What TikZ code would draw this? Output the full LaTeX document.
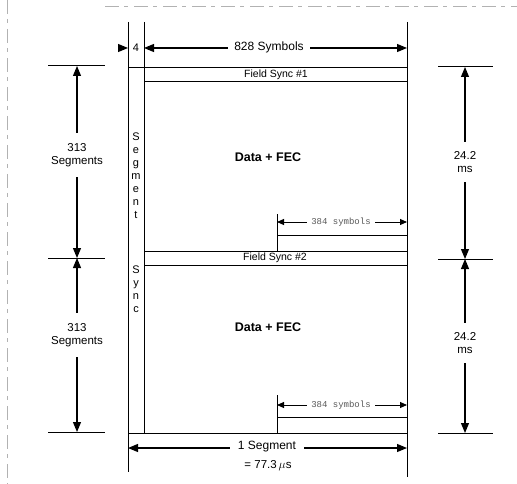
\documentclass[tikz,border=0pt]{standalone}
\usepackage{fontspec}
\setmainfont{Liberation Sans}
\newfontfamily\monof{Liberation Mono}
\usetikzlibrary{arrows.meta}
\tikzset{
  frame/.style={line width=1pt},
  dim/.style={line width=1.1pt,{Triangle[length=10pt,width=8pt]}-{Triangle[length=10pt,width=8pt]}},
  onehead/.style={line width=1.1pt,-{Triangle[length=10pt,width=8pt]}},
  smalldim/.style={line width=0.9pt,{Triangle[length=7pt,width=6pt]}-{Triangle[length=7pt,width=6pt]}},
  lbl/.style={font=\fontsize{11.5}{13.5}\selectfont,align=center,fill=white,inner sep=1pt},
  gap/.style={font=\fontsize{12}{14}\selectfont,fill=white,inner xsep=6pt,inner ysep=1pt},
  fs/.style={font=\fontsize{10.5}{12}\selectfont,inner sep=0pt},
  big/.style={font=\fontsize{12.5}{14}\selectfont\bfseries},
  sync/.style={font=\fontsize{11}{12.5}\selectfont,align=center,inner sep=0pt},
  mono/.style={font=\monof\fontsize{9}{10}\selectfont,text=black!65,fill=white,inner xsep=4pt,inner ysep=0pt},
  scan/.style={black!30,line width=0.5pt,dash pattern=on 14pt off 5pt on 4pt off 6pt}
}
\begin{document}
\begin{tikzpicture}[x=1pt,y=-1pt]
\useasboundingbox (0,0) rectangle (517,484);
% scan edges
\draw[scan] (105,6) -- (517,6);
\draw[scan] (7,0) -- (7,484);
% key coordinates
\coordinate (Ltop) at (128,22);  \coordinate (Lbot) at (128,472);
\coordinate (Stop) at (144,22);  \coordinate (Sbot) at (144,433);
\coordinate (Rtop) at (407,22);  \coordinate (Rbot) at (407,477);
\coordinate (F1tl) at (128,68);  \coordinate (F1tr) at (407,68);
\coordinate (F1bl) at (144,82);  \coordinate (F1br) at (407,82);
\coordinate (F2tl) at (144,251); \coordinate (F2tr) at (407,251);
\coordinate (F2bl) at (144,265); \coordinate (F2br) at (407,265);
\coordinate (Bl) at (128,433);   \coordinate (Br) at (407,433);
% upper 384 box
\coordinate (u1) at (277,214); \coordinate (u2) at (277,251);
\coordinate (u3) at (277,235); \coordinate (u4) at (407,235);
% lower 384 box
\coordinate (d1) at (277,395); \coordinate (d2) at (277,433);
\coordinate (d3) at (277,417); \coordinate (d4) at (407,417);
% frame
\draw[frame] (Ltop) -- (Lbot);
\draw[frame] (Stop) -- (Sbot);
\draw[frame] (Rtop) -- (Rbot);
\draw[frame] (F1tl) -- (F1tr);
\draw[frame] (F1bl) -- (F1br);
\draw[frame] (F2tl) -- (F2tr);
\draw[frame] (F2bl) -- (F2br);
\draw[frame] (Bl) -- (Br);
\draw[frame] (u1) -- (u2);
\draw[frame] (u3) -- (u4);
\draw[frame] (d1) -- (d2);
\draw[frame] (d3) -- (d4);
% labels inside
\node[fs] (fs1) at (276,75) {Field Sync \#1};
\node[fs] (fs2) at (275,258) {Field Sync \#2};
\node[big] (data1) at (268,157) {Data + FEC};
\node[big] (data2) at (268,327) {Data + FEC};
\node[sync] (seg) at (136,176) {S\\[0.5pt]e\\[0.5pt]g\\[0.5pt]m\\[0.5pt]e\\[0.5pt]n\\[0.5pt]t};
\node[sync] (syn) at (136,289) {S\\[0.5pt]y\\[0.5pt]n\\[0.5pt]c};
% top dimension
\coordinate (a4s) at (119,48); \coordinate (a4e) at (128,48);
\coordinate (t1) at (144,48); \coordinate (t2) at (407,48);
\draw[onehead] (a4s) -- (a4e);
\node[font=\fontsize{11}{13}\selectfont,inner sep=0pt] (four) at (136,48) {4};
\draw[dim] (t1) -- (t2);
\node[gap] (sym) at (269,47) {828 Symbols};
% 384 symbols arrows
\coordinate (s1) at (277,222); \coordinate (s2) at (407,222);
\draw[smalldim] (s1) -- (s2);
\node[mono] (m1) at (341,222) {384 symbols};
\coordinate (s3) at (277,405); \coordinate (s4) at (407,405);
\draw[smalldim] (s3) -- (s4);
\node[mono] (m2) at (341,405) {384 symbols};
% bottom dimension
\coordinate (b1) at (128,448); \coordinate (b2) at (407,448);
\draw[dim] (b1) -- (b2);
\node[gap,inner xsep=8pt] (seg1) at (267,447) {1 Segment};
\node[font=\fontsize{11.5}{13}\selectfont,inner sep=0pt] (us) at (268,466) {= 77.3\,$\mu$s};
% left dimension
\coordinate (lt1) at (48,66);  \coordinate (lt2) at (105,66);
\coordinate (lm1) at (48,258); \coordinate (lm2) at (105,258);
\coordinate (lb1) at (48,432); \coordinate (lb2) at (105,432);
\draw[frame] (lt1) -- (lt2);
\draw[frame] (lm1) -- (lm2);
\draw[frame] (lb1) -- (lb2);
\coordinate (la) at (77,66); \coordinate (lb) at (77,258); \coordinate (lc) at (77,432);
\draw[dim] (la) -- (lb);
\draw[dim] (lb) -- (lc);
\node[lbl,inner ysep=10pt] (l313a) at (77,155) {313\\Segments};
\node[lbl,inner ysep=10pt] (l313b) at (77,335) {313\\Segments};
% right dimension
\coordinate (rt1) at (438,67);  \coordinate (rt2) at (493,67);
\coordinate (rm1) at (438,259); \coordinate (rm2) at (493,259);
\coordinate (rb1) at (438,433); \coordinate (rb2) at (493,433);
\draw[frame] (rt1) -- (rt2);
\draw[frame] (rm1) -- (rm2);
\draw[frame] (rb1) -- (rb2);
\coordinate (ra) at (465,67); \coordinate (rb) at (465,259); \coordinate (rc) at (465,433);
\draw[dim] (ra) -- (rb);
\draw[dim] (rb) -- (rc);
\node[lbl,inner ysep=9pt] (ms1) at (465,162) {24.2\\ms};
\node[lbl,inner ysep=9pt] (ms2) at (465,343) {24.2\\ms};
\end{tikzpicture}
\end{document}
